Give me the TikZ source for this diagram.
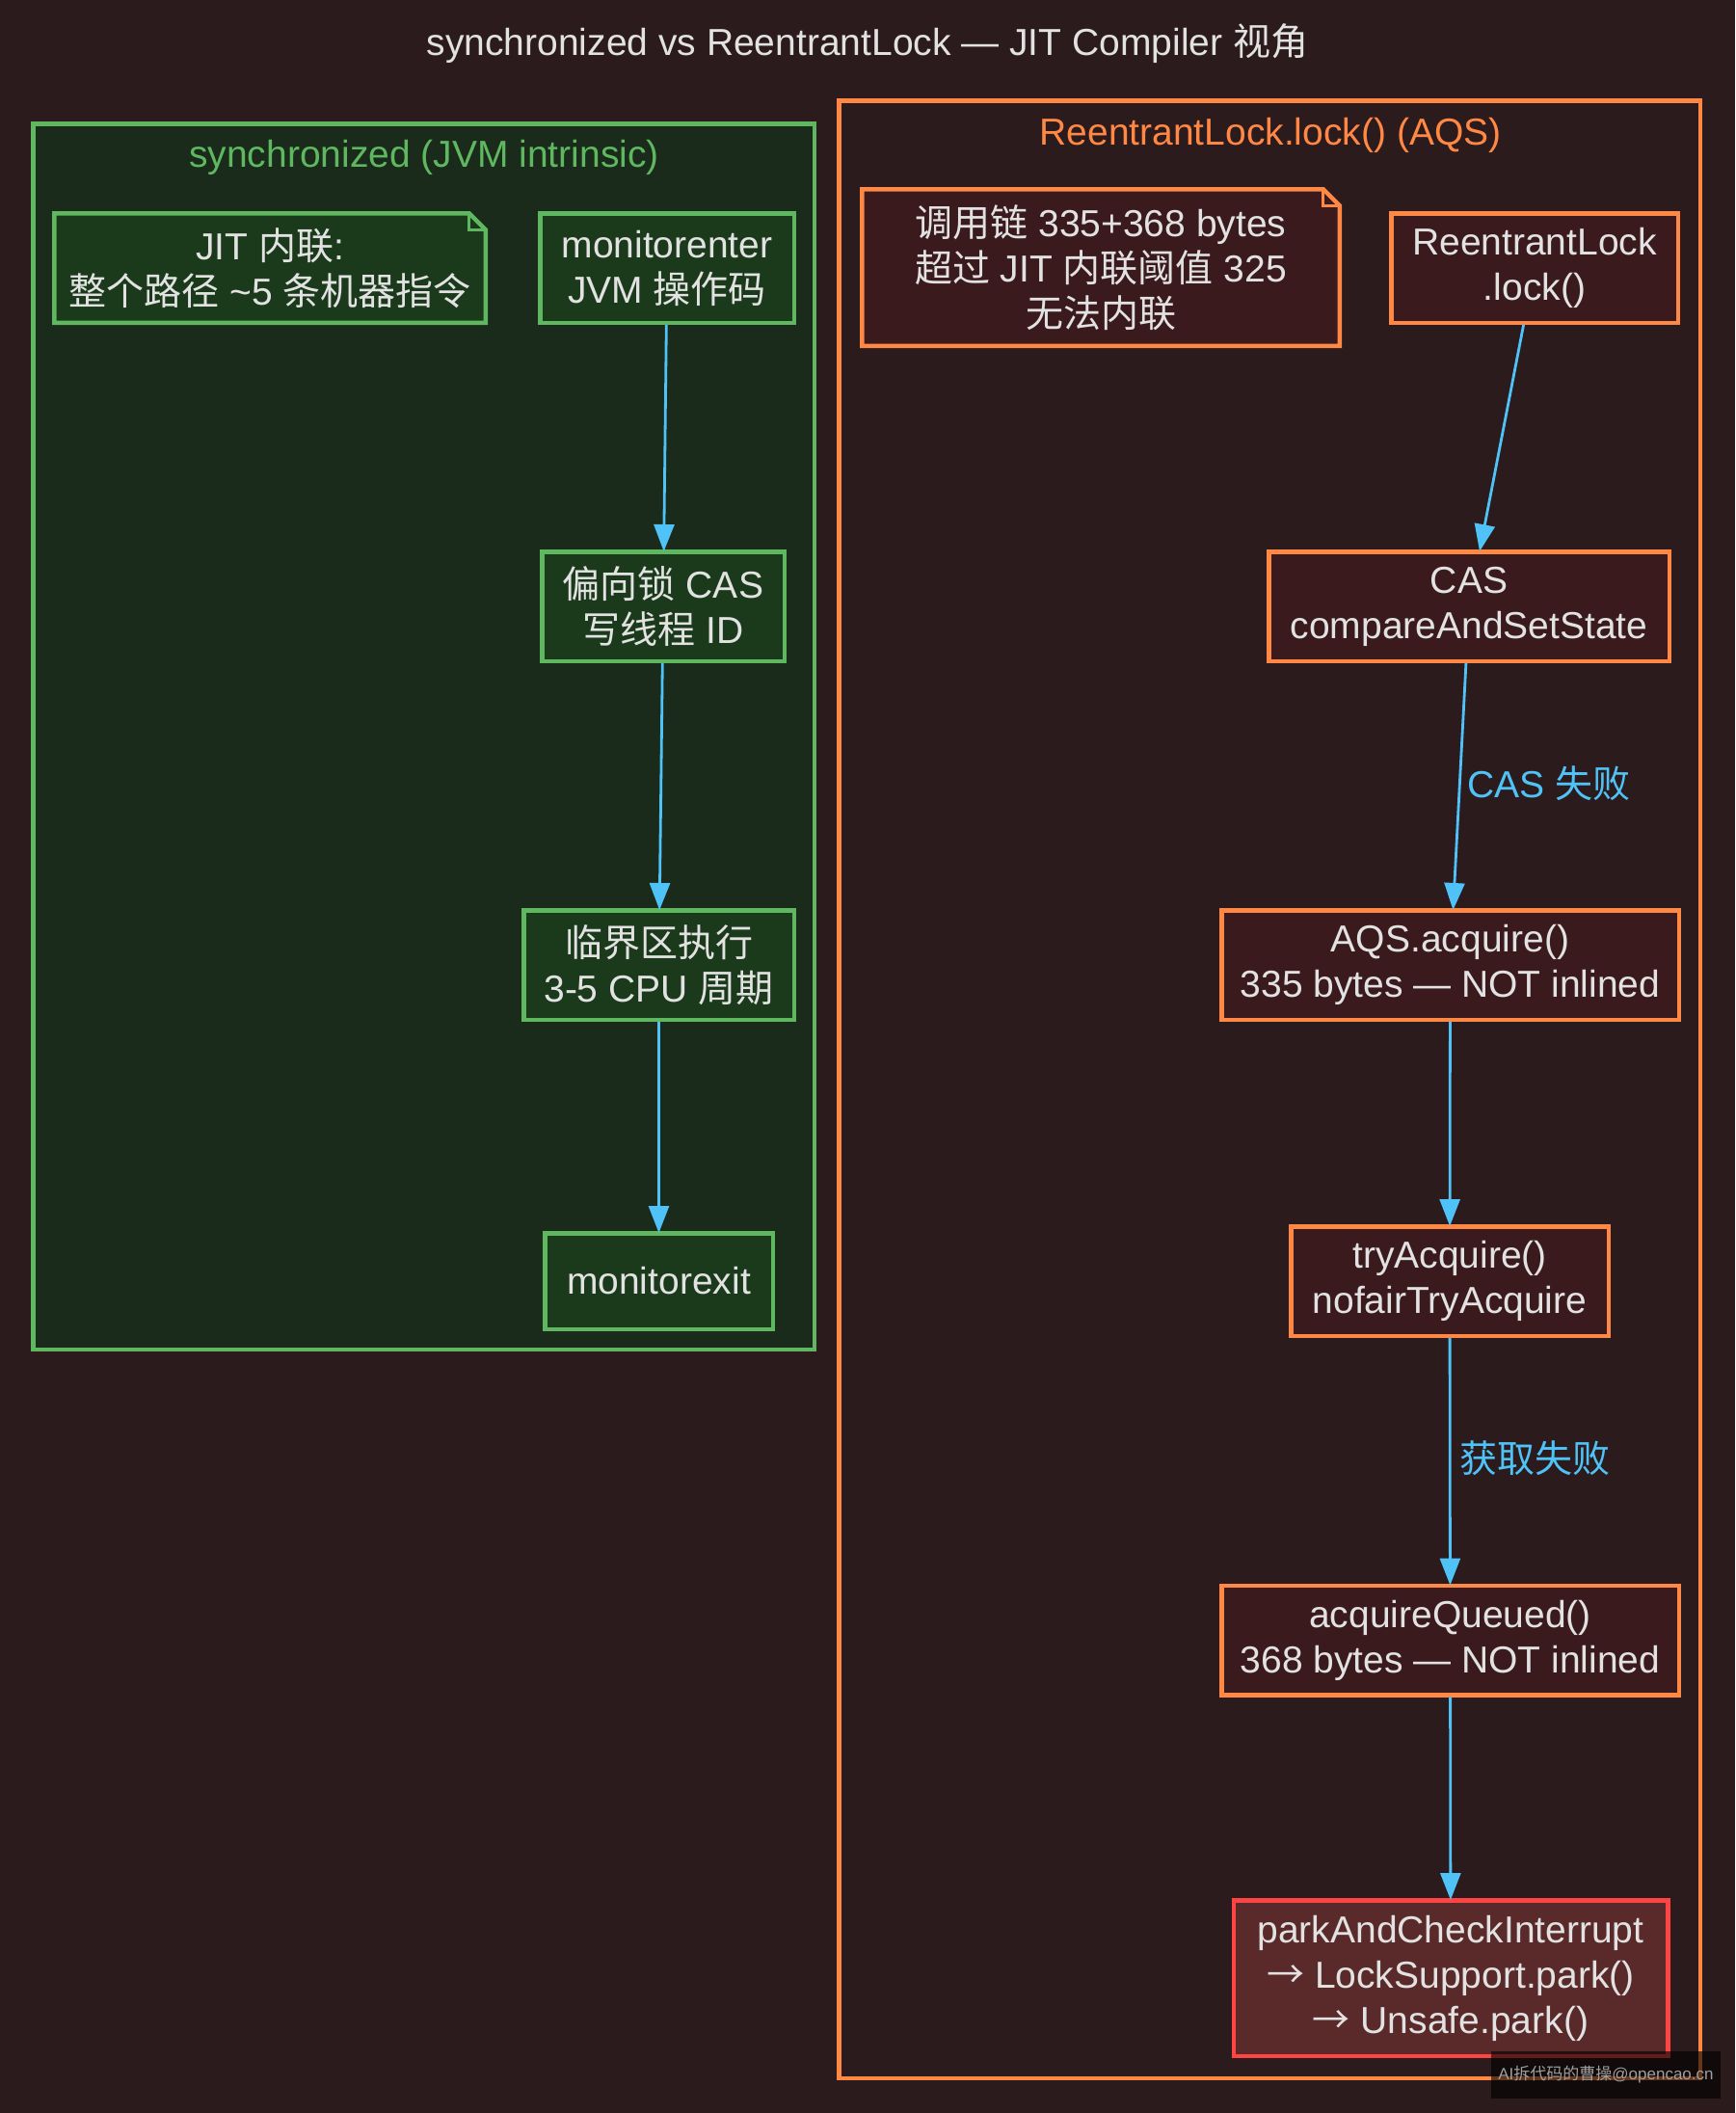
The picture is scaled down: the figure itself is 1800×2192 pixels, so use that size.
\documentclass[tikz,border=0pt]{standalone}
\usepackage{fontspec}
\setmainfont{Liberation Sans}
\newfontfamily\cjkfont{Noto Sans CJK SC}
\newcommand{\zh}[1]{{\cjkfont #1}}
\usetikzlibrary{arrows.meta}
\definecolor{bgc}{HTML}{2B1B1C}
\definecolor{gclus}{HTML}{1A2B1B}
\definecolor{gfill}{HTML}{1B3A1B}
\definecolor{gstroke}{HTML}{5FB760}
\definecolor{ostroke}{HTML}{FF8844}
\definecolor{rfill}{HTML}{3A1A1D}
\definecolor{pfill}{HTML}{5A2A2A}
\definecolor{redstroke}{HTML}{FF4444}
\definecolor{bluec}{HTML}{4FC3F7}
\definecolor{txtc}{HTML}{E2E2E2}
\pgfdeclarelayer{clusterlayer}
\pgfdeclarelayer{notelayer}
\pgfsetlayers{clusterlayer,notelayer,main}
\newcommand{\drawnoteshape}[3]{%
  \begin{pgfonlayer}{notelayer}
    \filldraw[draw=#2, fill=#3, line width=4.5pt, line join=miter]
      (#1.north west) -- ([xshift=-17pt]#1.north east) -- ([yshift=-17pt]#1.north east)
      -- (#1.south east) -- (#1.south west) -- cycle;
    \draw[draw=#2, line width=3pt]
      ([xshift=-17pt]#1.north east) -- ([xshift=-17pt,yshift=-17pt]#1.north east)
      -- ([yshift=-17pt]#1.north east);
  \end{pgfonlayer}}
\begin{document}
\begin{tikzpicture}[x=1pt,y=-1pt,
  txt/.style={text=txtc, font=\fontsize{39}{47}\selectfont, align=center},
  gbox/.style={txt, draw=gstroke, fill=gfill, line width=4.5pt, inner sep=0pt},
  rbox/.style={txt, draw=ostroke, fill=rfill, line width=4.5pt, inner sep=0pt},
  pbox/.style={txt, draw=redstroke, fill=pfill, line width=4.5pt, inner sep=0pt},
  notebox/.style={txt, draw=none, fill=none, inner sep=0pt, outer sep=0pt},
  clus/.style={line width=4.5pt},
  lbl/.style={text=bluec, font=\fontsize{39}{47}\selectfont},
  arr/.style={draw=bluec, line width=2.8pt, -{Triangle[length=28pt,width=21pt]}, shorten >=-2pt}
]
\useasboundingbox (0,0) rectangle (1800,2192);

% background and clusters
\begin{pgfonlayer}{clusterlayer}
  \fill[bgc] (0,0) rectangle (1800,2192);
  \filldraw[clus, draw=gstroke, fill=gclus] (34.25,128.25) rectangle (844.75,1399.75);
  \draw[clus, draw=ostroke] (870.25,104.25) rectangle (1763.75,2155.75);
\end{pgfonlayer}

% title
\node[txt, anchor=base] (title) at (900,58) {synchronized vs ReentrantLock — JIT Compiler \zh{视角}};

\node[txt, text=gstroke, anchor=base] (lclab) at (440,173) {synchronized (JVM intrinsic)};
\node[txt, text=ostroke, anchor=base] (rclab) at (1318,150) {ReentrantLock.lock() (AQS)};

% left nodes
\node[notebox, minimum width=447.5pt, minimum height=113.5pt] (jitnote) at (280,278)
  {JIT \zh{内联}:\\\zh{整个路径} \textasciitilde5 \zh{条机器指令}};
\drawnoteshape{jitnote}{gstroke}{gfill}
\node[gbox, minimum width=263.5pt, minimum height=113.5pt] (menter) at (692,278)
  {monitorenter\\JVM \zh{操作码}};
\node[gbox, minimum width=251.5pt, minimum height=113.5pt] (bias) at (688,629)
  {\zh{偏向锁} CAS\\\zh{写线程} ID};
\node[gbox, minimum width=280.5pt, minimum height=113.5pt] (crit) at (683.5,1001)
  {\zh{临界区执行}\\3-5 CPU \zh{周期}};
\node[gbox, minimum width=236.5pt, minimum height=99.5pt] (mexit) at (683.5,1329)
  {monitorexit};

% right nodes
\node[notebox, minimum width=495.5pt, minimum height=162.5pt] (rnote) at (1142,277.5)
  {\zh{调用链} 335+368 bytes\\\zh{超过} JIT \zh{内联阈值} 325\\\zh{无法内联}};
\drawnoteshape{rnote}{ostroke}{rfill}
\node[rbox, minimum width=297.5pt, minimum height=113.5pt] (rlock) at (1592,278)
  {ReentrantLock\\.lock()};
\node[rbox, minimum width=415.5pt, minimum height=113.5pt] (cas) at (1524,629)
  {CAS\\compareAndSetState};
\node[rbox, minimum width=474.5pt, minimum height=113.5pt] (aqs) at (1504.5,1001)
  {AQS.acquire()\\335 bytes — NOT inlined};
\node[rbox, minimum width=329.5pt, minimum height=113.5pt] (try) at (1504,1329)
  {tryAcquire()\\nofairTryAcquire};
\node[rbox, minimum width=474.5pt, minimum height=113.5pt] (acq) at (1504.5,1701.5)
  {acquireQueued()\\368 bytes — NOT inlined};
\node[pbox, minimum width=450.5pt, minimum height=161.5pt] (park) at (1505,2052)
  {parkAndCheckInterrupt\\\zh{→} LockSupport.park()\\\zh{→} Unsafe.park()};

% edges
\draw[arr] (menter) -- (bias);
\draw[arr] (bias) -- (crit);
\draw[arr] (crit) -- (mexit);
\draw[arr] (rlock) -- (cas);
\draw[arr] (cas) -- (aqs);
\draw[arr] (aqs) -- (try);
\draw[arr] (try) -- (acq);
\draw[arr] (acq) -- (park);

% edge labels
\node[lbl, anchor=west, inner sep=0pt] (l1) at (1522,813) {CAS \zh{失败}};
\node[lbl, anchor=west, inner sep=0pt] (l2) at (1514,1513) {\zh{获取失败}};

% watermark
\node[fill=black, fill opacity=0.6, text opacity=1, text=gray!75, minimum width=238pt, minimum height=49pt,
  inner sep=0pt, font=\fontsize{17}{20}\selectfont] (wm) at (1666,2152.5) {AI\zh{拆代码的曹操}@opencao.cn};
\end{tikzpicture}
\end{document}
